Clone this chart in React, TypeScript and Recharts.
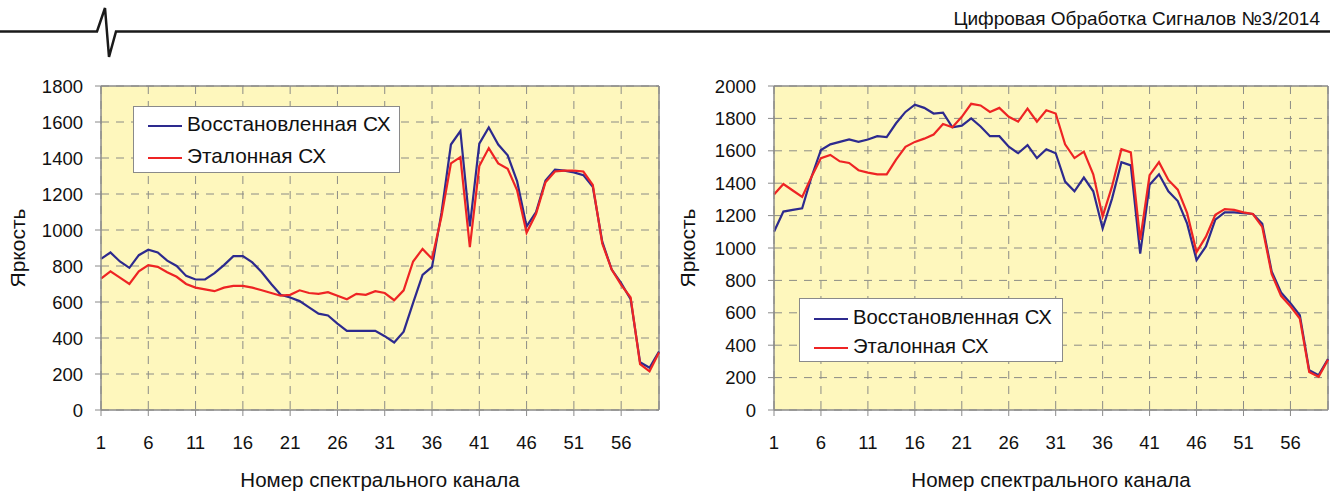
import React from 'react';
import { LineChart, Line, XAxis, YAxis, CartesianGrid, ReferenceLine, Legend } from 'recharts';

const channels = [
  1, 2, 3, 4, 5, 6, 7, 8, 9, 10, 11, 12, 13, 14, 15, 16, 17, 18, 19, 20,
  21, 22, 23, 24, 25, 26, 27, 28, 29, 30, 31, 32, 33, 34, 35, 36, 37, 38, 39, 40,
  41, 42, 43, 44, 45, 46, 47, 48, 49, 50, 51, 52, 53, 54, 55, 56, 57, 58, 59, 60,
];
const xTicks = [1, 6, 11, 16, 21, 26, 31, 36, 41, 46, 51, 56];
const leftYTicks = [0, 200, 400, 600, 800, 1000, 1200, 1400, 1600, 1800];
const rightYTicks = [0, 200, 400, 600, 800, 1000, 1200, 1400, 1600, 1800, 2000];

const seriesNames = ['Восстановленная СХ', 'Эталонная СХ'];
const headerText = 'Цифровая Обработка Сигналов №3/2014';
const xTitle = 'Номер спектрального канала';
const yTitle = 'Яркость';

const leftRestored = [
  840, 875, 825, 790, 860, 890, 875, 830, 800, 745, 725, 725, 760, 805, 855, 855, 820, 765, 700, 640,
  625, 605, 570, 535, 525, 480, 440, 440, 440, 440, 410, 375, 435, 595, 750, 795, 1095, 1475, 1550, 1020,
  1480, 1570, 1475, 1415, 1270, 1020, 1100, 1275, 1335, 1330, 1320, 1305, 1240, 935, 780, 705, 615, 265, 235, 325,
];
const leftReference = [
  730, 770, 735, 700, 770, 805, 795, 765, 740, 700, 680, 670, 660, 680, 690, 690, 680, 665, 650, 635,
  640, 665, 650, 645, 655, 635, 615, 645, 640, 660, 650, 610, 665, 825, 895, 840, 1075, 1370, 1405, 905,
  1355, 1455, 1370, 1340, 1220, 985, 1090, 1265, 1325, 1330, 1330, 1325, 1250, 925, 780, 695, 625, 255, 215, 320,
];
const rightRestored = [
  1100, 1225, 1235, 1245, 1440, 1605, 1640, 1655, 1670, 1655, 1670, 1690, 1685, 1770, 1840, 1885, 1865, 1830, 1835, 1745,
  1755, 1800, 1750, 1690, 1690, 1625, 1585, 1635, 1555, 1610, 1585, 1410, 1350, 1435, 1350, 1120, 1305, 1530, 1510, 965,
  1390, 1455, 1350, 1290, 1150, 925, 1010, 1175, 1220, 1220, 1215, 1210, 1150, 855, 725, 660, 585, 245, 215, 315,
];
const rightReference = [
  1330, 1395, 1355, 1315, 1440, 1555, 1575, 1535, 1525, 1480, 1465, 1455, 1455, 1545, 1625, 1655, 1675, 1700, 1765, 1745,
  1810, 1890, 1880, 1840, 1865, 1810, 1780, 1860, 1780, 1850, 1830, 1640, 1555, 1595, 1455, 1195, 1380, 1610, 1590, 1050,
  1450, 1530, 1420, 1360, 1215, 975, 1070, 1205, 1240, 1235, 1220, 1210, 1130, 840, 705, 640, 565, 235, 205, 310,
];

const BLUE = '#2D2A8E';
const RED = '#EE2424';
const FONT = '"Liberation Sans", Arial, sans-serif';
const AXIS_GRAY = '#8a8a8a';

const buildData = (a: number[], b: number[]) =>
  channels.map((ch, i) => ({ ch, restored: a[i], reference: b[i] }));

type PanelProps = {
  left: number;
  width: number;
  yAxisWidth: number;
  rightMargin: number;
  yMax: number;
  yTicks: number[];
  data: { ch: number; restored: number; reference: number }[];
  legendBox: { left: number; top: number; width: number; height: number; rows: number[]; fontSize: number; lineX: number; lineW: number; textX: number };
};

const Panel = ({ left, width, yAxisWidth, rightMargin, yMax, yTicks, data, legendBox }: PanelProps) => {
  const renderLegend = (props: any) => {
    const payload = props.payload || [];
    return (
      <div
        style={{
          position: 'relative',
          width: legendBox.width,
          height: legendBox.height,
          background: '#fff',
          border: '1px solid #8a8a8a',
          boxSizing: 'border-box',
          fontFamily: FONT,
        }}
      >
        {payload.map((entry: any, i: number) => (
          <div key={i}>
            <div
              style={{
                position: 'absolute',
                left: legendBox.lineX,
                top: legendBox.rows[i] - 1,
                width: legendBox.lineW,
                height: 2,
                background: entry.color,
              }}
            />
            <div
              style={{
                position: 'absolute',
                left: legendBox.textX,
                top: legendBox.rows[i] - legendBox.fontSize * 0.58,
                fontSize: legendBox.fontSize,
                lineHeight: 1,
                color: '#111',
                whiteSpace: 'nowrap',
              }}
            >
              {entry.value}
            </div>
          </div>
        ))}
      </div>
    );
  };

  return (
    <div style={{ position: 'absolute', left, top: 0 }}>
      <LineChart
        width={width}
        height={495}
        data={data}
        margin={{ top: 86, right: rightMargin, bottom: 0, left: 0 }}
      >
        <CartesianGrid
          stroke="#8c8c86"
          strokeDasharray="8 7"
          fill="#FEF7BD"
          fillOpacity={1}
        />
        <XAxis
          type="number"
          dataKey="ch"
          domain={[1, 60]}
          ticks={xTicks}
          height={85}
          tickSize={6}
          tickMargin={20}
          axisLine={{ stroke: AXIS_GRAY, strokeWidth: 1.5 }}
          tickLine={{ stroke: AXIS_GRAY }}
          tick={{ fontSize: 18.5, fill: '#111', fontFamily: FONT }}
          label={{ value: xTitle, position: 'insideBottom', offset: 8, style: { fontSize: 20.5, fill: '#111', fontFamily: FONT } }}
        />
        <YAxis
          type="number"
          domain={[0, yMax]}
          ticks={yTicks}
          width={yAxisWidth}
          tickSize={6}
          tickMargin={12}
          axisLine={{ stroke: AXIS_GRAY, strokeWidth: 1.5 }}
          tickLine={{ stroke: AXIS_GRAY }}
          tick={{ fontSize: 18.5, fill: '#111', fontFamily: FONT }}
          label={{ value: yTitle, angle: -90, position: 'insideLeft', offset: 18, style: { fontSize: 21, fill: '#111', fontFamily: FONT, textAnchor: 'middle' } }}
        />
        <ReferenceLine y={yMax} stroke={AXIS_GRAY} strokeWidth={1.5} />
        <ReferenceLine x={60} stroke={AXIS_GRAY} strokeWidth={1.5} />
        <Legend
          layout="vertical"
          align="center"
          verticalAlign="middle"
          content={renderLegend}
          wrapperStyle={{ left: legendBox.left, top: legendBox.top, width: legendBox.width, height: legendBox.height }}
        />
        <Line
          type="linear"
          dataKey="restored"
          name={seriesNames[0]}
          stroke={BLUE}
          strokeWidth={2.2}
          dot={false}
          isAnimationActive={false}
        />
        <Line
          type="linear"
          dataKey="reference"
          name={seriesNames[1]}
          stroke={RED}
          strokeWidth={2.2}
          dot={false}
          isAnimationActive={false}
        />
      </LineChart>
    </div>
  );
};

export default function App() {
  const leftData = buildData(leftRestored, leftReference);
  const rightData = buildData(rightRestored, rightReference);
  return (
    <div style={{ position: 'absolute', left: 0, top: 0, width: 1330, height: 495, background: '#fff', overflow: 'hidden' }}>
      <svg width={1330} height={60} style={{ position: 'absolute', left: 0, top: 0 }}>
        <polyline
          points="0,31.5 97,31.5 105,8 109,57 116,31.5 1330,31.5"
          fill="none"
          stroke="#1a1a1a"
          strokeWidth={2.5}
          strokeLinejoin="miter"
        />
        <text
          x={1320}
          y={25}
          fontSize={19}
          fontFamily={FONT}
          fill="#111"
          textAnchor="end"
        >
          {headerText}
        </text>
      </svg>
      <Panel
        left={0}
        width={665}
        yAxisWidth={101}
        rightMargin={6}
        yMax={1800}
        yTicks={leftYTicks}
        data={leftData}
        legendBox={{ left: 133, top: 106, width: 267, height: 67, rows: [19, 51], fontSize: 20.8, lineX: 14, lineW: 34, textX: 53 }}
      />
      <Panel
        left={670}
        width={660}
        yAxisWidth={104}
        rightMargin={2}
        yMax={2000}
        yTicks={rightYTicks}
        data={rightData}
        legendBox={{ left: 129, top: 298, width: 264, height: 64, rows: [20, 49], fontSize: 20.3, lineX: 14, lineW: 34, textX: 53 }}
      />
    </div>
  );
}
